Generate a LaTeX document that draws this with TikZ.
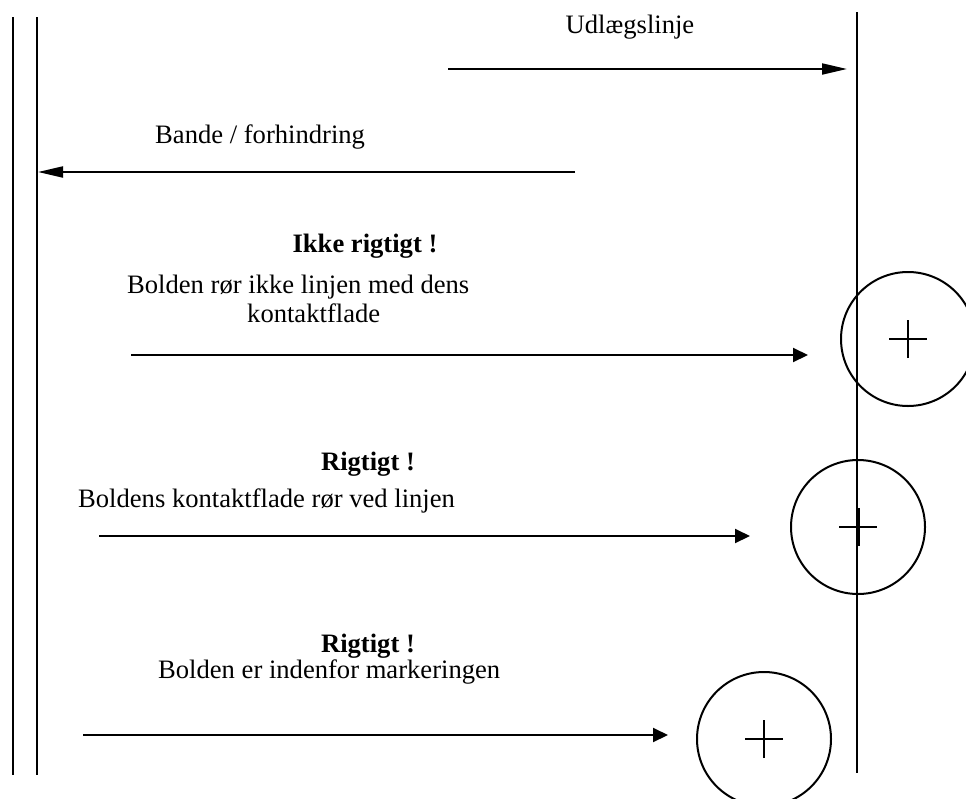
\documentclass[tikz,border=0pt]{standalone}
\usepackage{fontspec}
\setmainfont{Liberation Serif}
\usetikzlibrary{arrows.meta}
\begin{document}
\begin{tikzpicture}[x=1pt,y=-1pt,
  ln/.style={line width=2pt},
  arrlong/.style={line width=2pt,-{Triangle[length=25pt,width=11pt]}},
  arrshort/.style={line width=2pt,-{Triangle[length=15pt,width=14pt]}},
  ball/.style={circle,draw,line width=2pt,minimum size=134pt,inner sep=0pt},
  lbl/.style={inner sep=0pt,font=\fontsize{26.6}{32}\selectfont},
  blbl/.style={inner sep=0pt,font=\fontsize{26.6}{32}\selectfont\bfseries}]
\useasboundingbox (0,0) rectangle (966,798);
\clip (0,0) rectangle (966,798);
% vertical lines
\coordinate (l1t) at (13,17); \coordinate (l1b) at (13,775);
\coordinate (l2t) at (37,17); \coordinate (l2b) at (37,775);
\coordinate (rt) at (857,12); \coordinate (rb) at (857,773);
\draw[ln] (l1t) -- (l1b);
\draw[ln] (l2t) -- (l2b);
\draw[ln] (rt) -- (rb);
% arrows
\coordinate (a1s) at (448,69); \coordinate (a1e) at (847,69);
\coordinate (a2s) at (575,172); \coordinate (a2e) at (38,172);
\coordinate (a3s) at (131,355); \coordinate (a3e) at (808,355);
\coordinate (a4s) at (99,536); \coordinate (a4e) at (750,536);
\coordinate (a5s) at (83,735); \coordinate (a5e) at (668,735);
\draw[arrlong] (a1s) -- (a1e);
\draw[arrlong] (a2s) -- (a2e);
\draw[arrshort] (a3s) -- (a3e);
\draw[arrshort] (a4s) -- (a4e);
\draw[arrshort] (a5s) -- (a5e);
% balls
\node[ball] (b1) at (908,339) {};
\node[ball] (b2) at (858,527) {};
\node[ball] (b3) at (764,739) {};
\draw[ln] ([xshift=-19pt]b1.center) -- ([xshift=19pt]b1.center);
\draw[ln] ([yshift=-19pt]b1.center) -- ([yshift=19pt]b1.center);
\draw[ln] ([xshift=-19pt]b2.center) -- ([xshift=19pt]b2.center);
\draw[ln] ([xshift=1pt,yshift=-19pt]b2.center) -- ([xshift=1pt,yshift=19pt]b2.center);
\draw[ln] ([xshift=-19pt]b3.center) -- ([xshift=19pt]b3.center);
\draw[ln] ([yshift=-19pt]b3.center) -- ([yshift=19pt]b3.center);
% texts
\node[lbl,anchor=base] (t1) at (630,33) {Udlægslinje};
\node[lbl,anchor=base west] (t2) at (155,143) {Bande / forhindring};
\node[blbl,anchor=base] (t3) at (365,252) {Ikke rigtigt !};
\node[lbl,anchor=base west] (t4) at (127,293) {Bolden rør ikke linjen med dens};
\node[lbl,anchor=base west] (t5) at (247,322) {kontaktflade};
\node[blbl,anchor=base] (t6) at (368,470) {Rigtigt !};
\node[lbl,anchor=base west] (t7) at (78,507) {Boldens kontaktflade rør ved linjen};
\node[blbl,anchor=base] (t8) at (368,652) {Rigtigt !};
\node[lbl,anchor=base west] (t9) at (158,678) {Bolden er indenfor markeringen};
\end{tikzpicture}
\end{document}
